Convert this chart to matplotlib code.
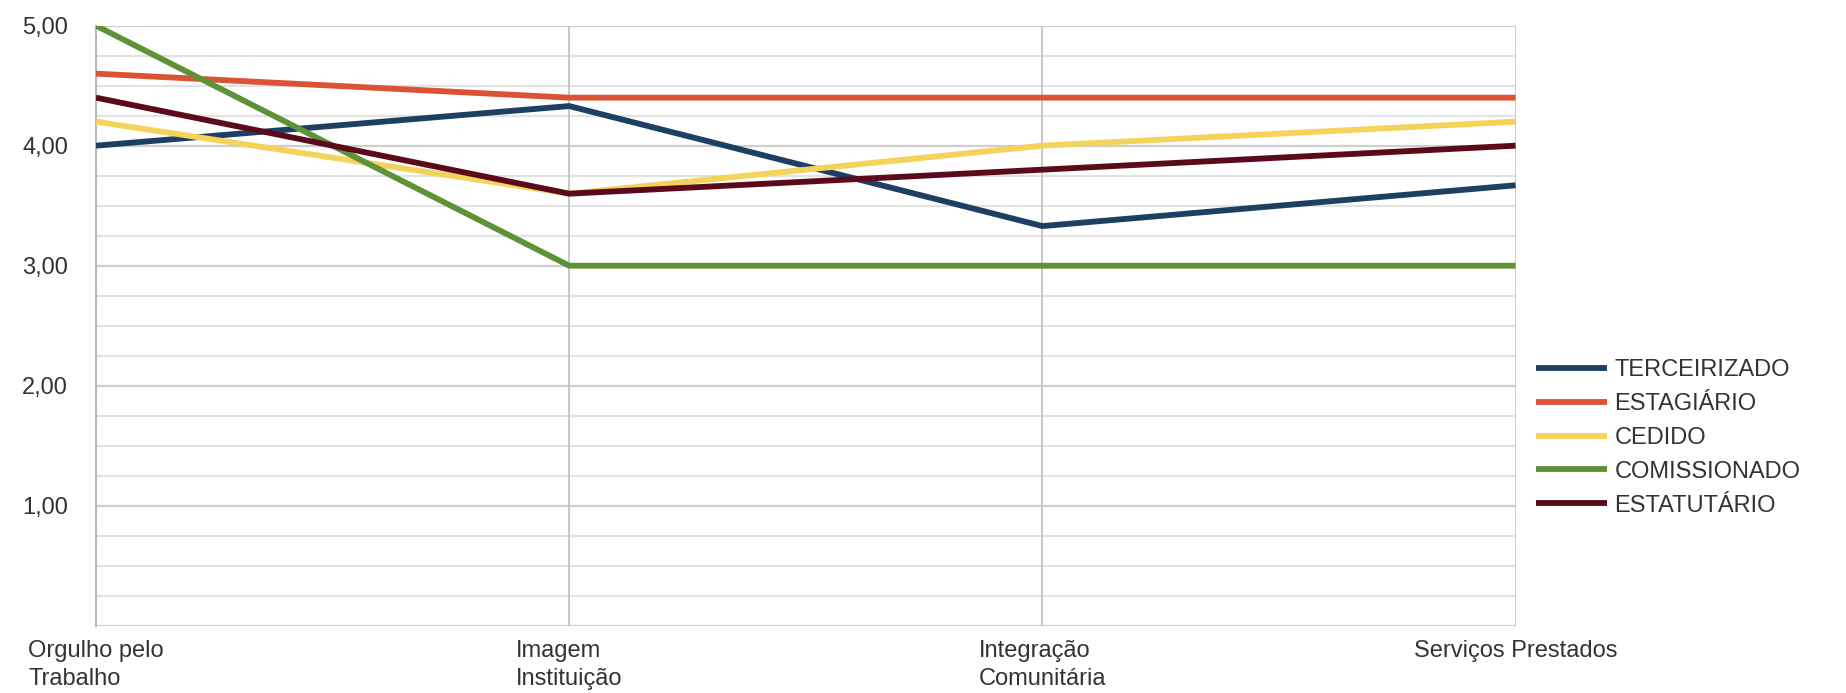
import numpy as np
import matplotlib
matplotlib.use("Agg")
import matplotlib.pyplot as plt

plt.rcParams['font.family'] = ['Liberation Sans', 'DejaVu Sans']

categories = ["Orgulho pelo\nTrabalho", "Imagem\nInstituição",
              "Integração\nComunitária", "Serviços Prestados"]
terceirizado = [4.00, 4.33, 3.33, 3.67]
estagiario = [4.60, 4.40, 4.40, 4.40]
cedido = [4.20, 3.60, 4.00, 4.20]
comissionado = [5.00, 3.00, 3.00, 3.00]
estatutario = [4.40, 3.60, 3.80, 4.00]

series = [
    ("TERCEIRIZADO", terceirizado, "#1c3f63"),
    ("ESTAGIÁRIO", estagiario, "#db5234"),
    ("CEDIDO", cedido, "#f3d35a"),
    ("COMISSIONADO", comissionado, "#5e9138"),
    ("ESTATUTÁRIO", estatutario, "#5b0a1c"),
]

fig = plt.figure(figsize=(18.46, 6.93), dpi=100)
ax = fig.add_axes([0.052, 0.097, 0.769, 0.866])

x = np.arange(len(categories))

# grid: light minor lines every 0.25, darker at integers
for v in np.arange(0, 5.01, 0.25):
    col = "#cfcfcf" if abs(v - round(v)) < 1e-9 else "#e2e2e2"
    ax.axhline(v, color=col, lw=1.6, zorder=0)
for xi in x[1:]:
    ax.axvline(xi, color="#c4c4c4", lw=1.3, zorder=0)

for name, vals, c in series:
    ax.plot(x, vals, color=c, lw=4.2, label=name, solid_capstyle="butt", zorder=3)

ax.set_xlim(0, len(categories) - 1)
ax.set_ylim(0, 5)
ax.set_yticks([1, 2, 3, 4, 5])
ax.set_yticklabels(["1,00", "2,00", "3,00", "4,00", "5,00"])
ax.set_xticks(x)
ax.set_xticklabels(categories, multialignment="left", linespacing=1.35)
ax.tick_params(axis="y", length=0, pad=20, labelsize=17, labelcolor="#333333")
ax.tick_params(axis="x", length=0, pad=10, labelsize=17, labelcolor="#333333")

for s in ["top", "right", "bottom"]:
    ax.spines[s].set_visible(False)
ax.spines["left"].set_color("#b8b8b8")
ax.spines["left"].set_linewidth(1.5)

leg = ax.legend(loc="center left", bbox_to_anchor=(1.008, 0.313), frameon=False,
                fontsize=17, handlelength=3.0, handletextpad=0.3,
                labelspacing=0.5, borderaxespad=0)
for t in leg.get_texts():
    t.set_color("#333333")

fig.savefig("out.png", dpi=100)
